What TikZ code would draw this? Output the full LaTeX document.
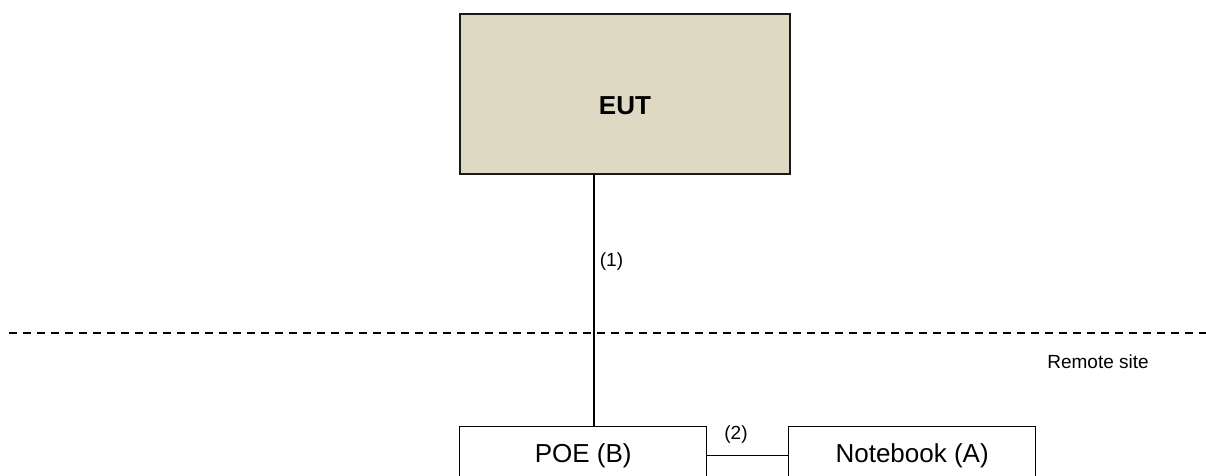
\documentclass[tikz,border=0pt]{standalone}
\usepackage{fontspec}
\setmainfont{Liberation Sans}
\definecolor{euttan}{RGB}{221,217,195}
\begin{document}
\begin{tikzpicture}[x=1pt,y=-1pt,
  box/.style={draw=black,line width=1.3pt,minimum width=247pt,minimum height=58pt,inner sep=0pt,font=\fontsize{26}{30}\selectfont,anchor=north west},
  eutbox/.style={draw=black!90,line width=1.8pt,fill=euttan,minimum width=330pt,minimum height=160pt,inner sep=0pt,anchor=north west},
  conn/.style={line width=1.4pt},
  lbl/.style={font=\fontsize{19}{22}\selectfont,inner sep=0pt}]
\useasboundingbox (0,0) rectangle (1206,475);
\clip (0,0) rectangle (1206,475);
\node[eutbox] (eut) at (459,13) {};
\node[font=\fontsize{26}{30}\selectfont\bfseries,inner sep=0pt] (eutlbl) at ([yshift=-12pt]eut.center) {EUT};
\node[box] (poe) at (459,426) {POE (B)};
\node[box] (nb) at (788,426) {Notebook (A)};
\coordinate (l1) at (594,0);
\coordinate (dl) at (9,333);
\coordinate (dr) at (1206,333);
\draw[conn] (eut.south -| l1) -- (poe.north -| l1);
\draw[conn] (poe.east) -- (nb.west);
\draw[line width=1.4pt,dash pattern=on 8.3pt off 5.7pt] (dl) -- (dr);
\node[lbl] (n1) at (611.5,262) {(1)};
\node[lbl] (n2) at (736,435) {(2)};
\node[lbl] (rs) at (1098,362) {Remote site};
\end{tikzpicture}
\end{document}
